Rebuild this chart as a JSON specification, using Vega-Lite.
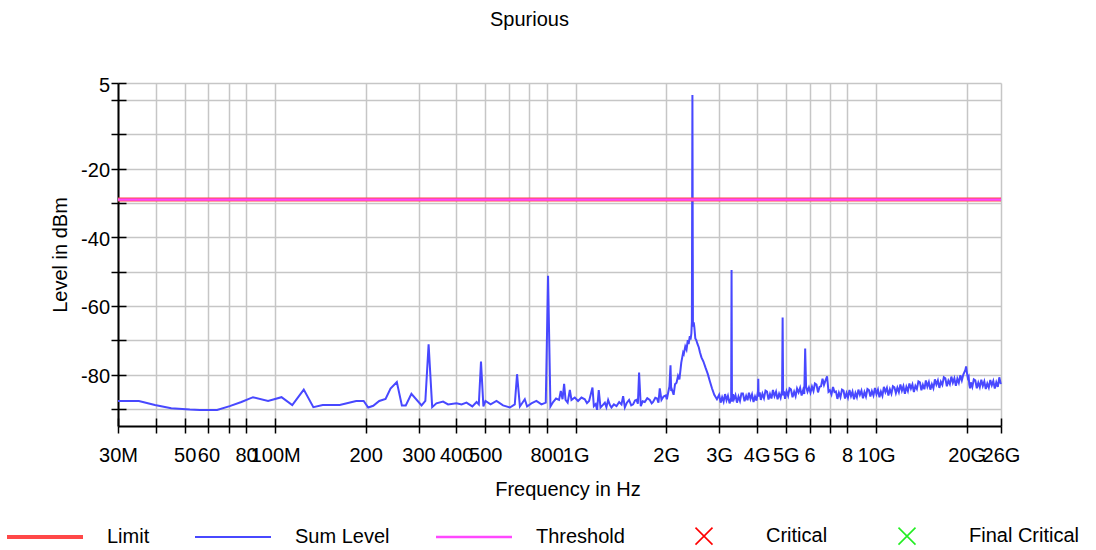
{
  "$schema": "https://vega.github.io/schema/vega-lite/v6.json",
  "width": 883,
  "height": 343,
  "autosize": {"type": "none"},
  "padding": {"left": 118, "top": 83, "right": 95, "bottom": 124},
  "background": "white",
  "title": {"text": "Spurious", "fontSize": 20, "fontWeight": "normal", "font": "Liberation Sans", "color": "black", "anchor": "middle", "frame": "group", "baseline": "alphabetic", "offset": 29, "dx": -30},
  "datasets": {
    "spectrum": [
      {"freq": 30, "level": -87.7}, {"freq": 35.2, "level": -87.7}, {"freq": 39.8, "level": -88.9}, {"freq": 45.1, "level": -89.8},
      {"freq": 52, "level": -90.2}, {"freq": 56.1, "level": -90.3}, {"freq": 64.1, "level": -90.3}, {"freq": 70.6, "level": -89.2},
      {"freq": 77.2, "level": -88.0}, {"freq": 84.4, "level": -86.6}, {"freq": 94.7, "level": -87.7}, {"freq": 105, "level": -86.6},
      {"freq": 114, "level": -88.9}, {"freq": 124.5, "level": -84.4}, {"freq": 134, "level": -89.5}, {"freq": 144, "level": -88.9},
      {"freq": 164, "level": -88.9}, {"freq": 186, "level": -87.7}, {"freq": 197, "level": -87.7}, {"freq": 204, "level": -89.6},
      {"freq": 212, "level": -89.1}, {"freq": 222, "level": -87.7}, {"freq": 233, "level": -87.1}, {"freq": 242, "level": -84.1},
      {"freq": 254, "level": -82.2}, {"freq": 264, "level": -89.0}, {"freq": 272, "level": -89.0}, {"freq": 284, "level": -85.6},
      {"freq": 307, "level": -89.0}, {"freq": 316, "level": -87.7}, {"freq": 324, "level": -71.2}, {"freq": 333, "level": -89.5},
      {"freq": 344, "level": -88.4}, {"freq": 362, "level": -87.9}, {"freq": 376, "level": -88.7}, {"freq": 401, "level": -88.4},
      {"freq": 417, "level": -88.7}, {"freq": 433, "level": -88.2}, {"freq": 453, "level": -89.3}, {"freq": 468, "level": -88.0},
      {"freq": 476, "level": -88.7}, {"freq": 484, "level": -76.2}, {"freq": 493, "level": -89.3}, {"freq": 501, "level": -87.7},
      {"freq": 521, "level": -88.7}, {"freq": 545, "level": -87.7}, {"freq": 573, "level": -89.0}, {"freq": 604, "level": -89.6},
      {"freq": 627, "level": -88.7}, {"freq": 638, "level": -79.9}, {"freq": 652, "level": -89.3}, {"freq": 677, "level": -87.2},
      {"freq": 689, "level": -89.3}, {"freq": 712, "level": -88.4}, {"freq": 740, "level": -87.7}, {"freq": 769, "level": -88.7},
      {"freq": 795, "level": -88.2}, {"freq": 809, "level": -51.2}, {"freq": 824, "level": -89.3}, {"freq": 841, "level": -88.0},
      {"freq": 860, "level": -87.0}, {"freq": 880, "level": -87.4}, {"freq": 892, "level": -84.8}, {"freq": 904, "level": -87.2},
      {"freq": 915, "level": -82.7}, {"freq": 925, "level": -87.4}, {"freq": 940, "level": -88.2}, {"freq": 956, "level": -84.5},
      {"freq": 968, "level": -87.4}, {"freq": 993, "level": -86.7}, {"freq": 1018, "level": -87.7}, {"freq": 1045, "level": -86.7},
      {"freq": 1072, "level": -87.2}, {"freq": 1090, "level": -88.3}, {"freq": 1108, "level": -87.7}, {"freq": 1137, "level": -83.8},
      {"freq": 1149, "level": -89.2}, {"freq": 1165, "level": -88.6}, {"freq": 1178, "level": -90.3}, {"freq": 1193, "level": -84.5},
      {"freq": 1209, "level": -89.6}, {"freq": 1230, "level": -88.9}, {"freq": 1250, "level": -88.2}, {"freq": 1265, "level": -89.5},
      {"freq": 1282, "level": -87.4}, {"freq": 1300, "level": -88.9}, {"freq": 1315, "level": -89.6}, {"freq": 1340, "level": -88.7},
      {"freq": 1367, "level": -89.2}, {"freq": 1395, "level": -88.0}, {"freq": 1420, "level": -88.7}, {"freq": 1438, "level": -86.3},
      {"freq": 1457, "level": -89.6}, {"freq": 1480, "level": -88.2}, {"freq": 1505, "level": -87.4}, {"freq": 1530, "level": -89.0},
      {"freq": 1552, "level": -88.7}, {"freq": 1575, "level": -87.6}, {"freq": 1593, "level": -87.4}, {"freq": 1610, "level": -88.5},
      {"freq": 1625, "level": -79.4}, {"freq": 1646, "level": -89.2}, {"freq": 1670, "level": -87.8}, {"freq": 1697, "level": -88.0},
      {"freq": 1730, "level": -86.9}, {"freq": 1764, "level": -87.4}, {"freq": 1790, "level": -88.4}, {"freq": 1809, "level": -88.0},
      {"freq": 1840, "level": -86.8}, {"freq": 1865, "level": -87.0}, {"freq": 1885, "level": -88.2}, {"freq": 1904, "level": -84.0},
      {"freq": 1929, "level": -87.4}, {"freq": 1960, "level": -86.4}, {"freq": 1994, "level": -86.1}, {"freq": 2010, "level": -87.2},
      {"freq": 2030, "level": -85.3}, {"freq": 2050, "level": -83.5}, {"freq": 2067, "level": -77.3}, {"freq": 2078, "level": -84.8},
      {"freq": 2088, "level": -84.3}, {"freq": 2117, "level": -85.9}, {"freq": 2140, "level": -82.8}, {"freq": 2165, "level": -82.4},
      {"freq": 2190, "level": -80.4}, {"freq": 2213, "level": -81.4}, {"freq": 2245, "level": -76.5}, {"freq": 2277, "level": -73.6},
      {"freq": 2289, "level": -74.0}, {"freq": 2315, "level": -71.8}, {"freq": 2337, "level": -72.7}, {"freq": 2360, "level": -70.0},
      {"freq": 2375, "level": -71.1}, {"freq": 2397, "level": -68.8}, {"freq": 2410, "level": -69.8}, {"freq": 2425, "level": -68.1},
      {"freq": 2435, "level": -64.5}, {"freq": 2445, "level": 1.5}, {"freq": 2455, "level": -66.0}, {"freq": 2470, "level": -64.8},
      {"freq": 2481, "level": -66.1}, {"freq": 2500, "level": -69.5}, {"freq": 2519, "level": -70.0}, {"freq": 2540, "level": -71.0},
      {"freq": 2568, "level": -72.1}, {"freq": 2590, "level": -73.5}, {"freq": 2620, "level": -75.0}, {"freq": 2660, "level": -76.2},
      {"freq": 2703, "level": -78.0}, {"freq": 2750, "level": -79.8}, {"freq": 2793, "level": -81.9}, {"freq": 2840, "level": -84.0},
      {"freq": 2891, "level": -85.9}, {"freq": 2950, "level": -87.2},
      {"freq": 3000, "level": -85.9}, {"freq": 3035, "level": -88.2}, {"freq": 3070, "level": -86.6}, {"freq": 3105, "level": -87.9},
      {"freq": 3140, "level": -85.7}, {"freq": 3175, "level": -87.5}, {"freq": 3210, "level": -86.2}, {"freq": 3250, "level": -88.4},
      {"freq": 3290, "level": -86.8}, {"freq": 3300, "level": -49.5}, {"freq": 3310, "level": -87.9}, {"freq": 3335, "level": -85.7},
      {"freq": 3360, "level": -87.2}, {"freq": 3400, "level": -86.0}, {"freq": 3440, "level": -88.2}, {"freq": 3480, "level": -86.4},
      {"freq": 3520, "level": -87.7}, {"freq": 3560, "level": -85.5}, {"freq": 3600, "level": -85.5}, {"freq": 3645, "level": -87.8},
      {"freq": 3690, "level": -86.2}, {"freq": 3730, "level": -87.5}, {"freq": 3770, "level": -85.3}, {"freq": 3815, "level": -87.1},
      {"freq": 3860, "level": -85.8}, {"freq": 3905, "level": -88.0}, {"freq": 3950, "level": -86.4}, {"freq": 3995, "level": -87.6},
      {"freq": 4040, "level": -84.9}, {"freq": 4050, "level": -81.2}, {"freq": 4060, "level": -86.4}, {"freq": 4095, "level": -85.2},
      {"freq": 4130, "level": -87.4}, {"freq": 4180, "level": -85.6}, {"freq": 4230, "level": -86.9}, {"freq": 4280, "level": -84.7},
      {"freq": 4330, "level": -85.0}, {"freq": 4380, "level": -87.3}, {"freq": 4430, "level": -85.7}, {"freq": 4480, "level": -87.0},
      {"freq": 4530, "level": -84.5}, {"freq": 4585, "level": -86.3}, {"freq": 4640, "level": -85.0}, {"freq": 4695, "level": -87.2},
      {"freq": 4750, "level": -85.6}, {"freq": 4805, "level": -86.8}, {"freq": 4860, "level": -84.6}, {"freq": 4880, "level": -63.4},
      {"freq": 4900, "level": -86.1}, {"freq": 4935, "level": -84.9}, {"freq": 4970, "level": -87.1}, {"freq": 5030, "level": -84.9},
      {"freq": 5090, "level": -86.2}, {"freq": 5145, "level": -84.0}, {"freq": 5200, "level": -84.3}, {"freq": 5265, "level": -86.6},
      {"freq": 5330, "level": -85.0}, {"freq": 5390, "level": -86.3}, {"freq": 5450, "level": -84.1}, {"freq": 5515, "level": -85.2},
      {"freq": 5580, "level": -83.9}, {"freq": 5645, "level": -86.1}, {"freq": 5710, "level": -84.5}, {"freq": 5760, "level": -85.7},
      {"freq": 5800, "level": -72.4}, {"freq": 5840, "level": -83.5}, {"freq": 5905, "level": -85.0}, {"freq": 5970, "level": -83.8},
      {"freq": 6040, "level": -85.3}, {"freq": 6110, "level": -83.5}, {"freq": 6180, "level": -84.8}, {"freq": 6250, "level": -82.6},
      {"freq": 6325, "level": -82.9}, {"freq": 6400, "level": -85.2}, {"freq": 6475, "level": -83.6}, {"freq": 6550, "level": -83.4},
      {"freq": 6625, "level": -81.2}, {"freq": 6700, "level": -83.0}, {"freq": 6780, "level": -81.7}, {"freq": 6860, "level": -80.5},
      {"freq": 6935, "level": -85.0}, {"freq": 7010, "level": -84.6}, {"freq": 7095, "level": -85.8}, {"freq": 7180, "level": -83.6},
      {"freq": 7260, "level": -85.1}, {"freq": 7340, "level": -84.9}, {"freq": 7425, "level": -87.1}, {"freq": 7510, "level": -85.3},
      {"freq": 7600, "level": -86.6}, {"freq": 7690, "level": -84.4}, {"freq": 7780, "level": -84.7}, {"freq": 7870, "level": -87.0},
      {"freq": 7960, "level": -85.4}, {"freq": 8050, "level": -86.7}, {"freq": 8145, "level": -84.5}, {"freq": 8240, "level": -86.3},
      {"freq": 8335, "level": -85.0}, {"freq": 8430, "level": -87.2}, {"freq": 8525, "level": -85.4}, {"freq": 8620, "level": -86.6},
      {"freq": 8720, "level": -84.4}, {"freq": 8820, "level": -85.9}, {"freq": 8925, "level": -84.7}, {"freq": 9030, "level": -86.9},
      {"freq": 9135, "level": -85.1}, {"freq": 9240, "level": -86.4}, {"freq": 9345, "level": -84.2}, {"freq": 9450, "level": -84.5},
      {"freq": 9560, "level": -86.4}, {"freq": 9670, "level": -84.8}, {"freq": 9785, "level": -86.1}, {"freq": 9900, "level": -83.9},
      {"freq": 10015, "level": -85.7}, {"freq": 10130, "level": -84.4}, {"freq": 10245, "level": -86.6}, {"freq": 10360, "level": -85.0},
      {"freq": 10480, "level": -86.2}, {"freq": 10600, "level": -83.6}, {"freq": 10725, "level": -85.1}, {"freq": 10850, "level": -83.9},
      {"freq": 10975, "level": -86.1}, {"freq": 11100, "level": -84.3}, {"freq": 11230, "level": -85.6}, {"freq": 11360, "level": -83.4},
      {"freq": 11490, "level": -83.7}, {"freq": 11620, "level": -85.4}, {"freq": 11755, "level": -83.8}, {"freq": 11890, "level": -85.1},
      {"freq": 12030, "level": -82.9}, {"freq": 12170, "level": -84.7}, {"freq": 12310, "level": -83.4}, {"freq": 12450, "level": -85.6},
      {"freq": 12595, "level": -83.6}, {"freq": 12740, "level": -84.8}, {"freq": 12890, "level": -82.6}, {"freq": 13040, "level": -84.1},
      {"freq": 13190, "level": -82.9}, {"freq": 13340, "level": -85.1}, {"freq": 13495, "level": -83.3}, {"freq": 13650, "level": -84.2},
      {"freq": 13810, "level": -82.0}, {"freq": 13970, "level": -82.3}, {"freq": 14130, "level": -84.6}, {"freq": 14290, "level": -83.0},
      {"freq": 14455, "level": -84.3}, {"freq": 14620, "level": -81.7}, {"freq": 14790, "level": -83.5}, {"freq": 14960, "level": -82.2},
      {"freq": 15135, "level": -84.4}, {"freq": 15310, "level": -82.8}, {"freq": 15490, "level": -84.0}, {"freq": 15670, "level": -81.4},
      {"freq": 15850, "level": -82.9}, {"freq": 16030, "level": -81.7}, {"freq": 16215, "level": -83.9}, {"freq": 16400, "level": -82.1},
      {"freq": 16590, "level": -83.0}, {"freq": 16780, "level": -80.8}, {"freq": 16975, "level": -81.1}, {"freq": 17170, "level": -83.4},
      {"freq": 17370, "level": -81.8}, {"freq": 17570, "level": -82.8}, {"freq": 17775, "level": -80.6}, {"freq": 17980, "level": -82.4},
      {"freq": 18190, "level": -81.1}, {"freq": 18400, "level": -83.3}, {"freq": 18610, "level": -81.2}, {"freq": 18820, "level": -82.4},
      {"freq": 19040, "level": -80.2}, {"freq": 19260, "level": -81.7}, {"freq": 19480, "level": -80.0}, {"freq": 19710, "level": -79.0},
      {"freq": 19800, "level": -78.6}, {"freq": 19900, "level": -77.6}, {"freq": 20030, "level": -79.5}, {"freq": 20170, "level": -81.0},
      {"freq": 20290, "level": -80.6}, {"freq": 20400, "level": -83.0}, {"freq": 20515, "level": -84.0}, {"freq": 20630, "level": -82.3},
      {"freq": 20870, "level": -83.6}, {"freq": 21110, "level": -81.4}, {"freq": 21355, "level": -81.7}, {"freq": 21600, "level": -84.0},
      {"freq": 21850, "level": -82.4}, {"freq": 22100, "level": -83.7}, {"freq": 22360, "level": -81.5}, {"freq": 22620, "level": -83.3},
      {"freq": 22880, "level": -82.0}, {"freq": 23140, "level": -84.2}, {"freq": 23410, "level": -82.6}, {"freq": 23680, "level": -83.8},
      {"freq": 23955, "level": -81.6}, {"freq": 24230, "level": -83.1}, {"freq": 24510, "level": -81.9}, {"freq": 24790, "level": -84.1},
      {"freq": 25080, "level": -82.3}, {"freq": 25370, "level": -83.6}, {"freq": 25665, "level": -80.8}, {"freq": 25960, "level": -82.8}
    ],
    "limit": [{"freq": 30, "level": -29.0}, {"freq": 26000, "level": -29.0}],
    "threshold": [{"freq": 30, "level": -29.0}, {"freq": 26000, "level": -29.0}]
  },
  "layer": [
    {
      "data": {"name": "spectrum"},
      "mark": {"type": "line", "strokeWidth": 2},
      "encoding": {
        "x": {
          "field": "freq", "type": "quantitative",
          "scale": {"type": "log", "domain": [30, 26000], "nice": false},
          "axis": {
            "title": "Frequency in Hz",
            "values": [30, 40, 50, 60, 70, 80, 100, 200, 300, 400, 500, 600, 700, 800, 1000, 2000, 3000, 4000, 5000, 6000, 7000, 8000, 10000, 20000, 26000],
            "labelExpr": "['30M','','50','60','','80','100M','200','300','400','500','','','800','1G','2G','3G','4G','5G','6','','8','10G','20G','26G'][indexof([30,40,50,60,70,80,100,200,300,400,500,600,700,800,1000,2000,3000,4000,5000,6000,7000,8000,10000,20000,26000], round(datum.value))]",
            "labelOverlap": false, "labelFlush": false, "labelBound": false,
            "labelFontSize": 20, "labelFont": "Liberation Sans", "labelColor": "black",
            "labelBaseline": "alphabetic", "labelPadding": 28,
            "tickSize": 7, "tickColor": "black", "tickWidth": 1.5,
            "domainColor": "black", "domainWidth": 2,
            "grid": true, "gridColor": "#c6c6c6", "gridWidth": 1.5,
            "titleFontSize": 20, "titleFontWeight": "normal", "titleFont": "Liberation Sans", "titleColor": "black",
            "titleBaseline": "alphabetic", "titleX": 449.5, "titleY": 69, "titleAlign": "center"
          }
        },
        "y": {
          "field": "level", "type": "quantitative",
          "scale": {"domain": [-95, 5], "nice": false, "zero": false},
          "axis": {
            "title": "Level in dBm",
            "values": [5, 0, -10, -20, -30, -40, -50, -60, -70, -80, -90],
            "labelExpr": "indexof([5,-20,-40,-60,-80], datum.value) >= 0 ? '' + datum.value : ''",
            "labelOverlap": false, "labelBound": false, "labelFlush": false,
            "labelFontSize": 20, "labelFont": "Liberation Sans", "labelColor": "black",
            "labelPadding": 1.5, "labelBaseline": "middle", "labelOffset": 2,
            "tickSize": 7, "tickColor": "black", "tickWidth": 1.5,
            "domainColor": "black", "domainWidth": 2,
            "grid": true, "gridColor": "#c6c6c6", "gridWidth": 1.5,
            "titleFontSize": 20, "titleFontWeight": "normal", "titleFont": "Liberation Sans", "titleColor": "black",
            "titleBaseline": "alphabetic", "titleAngle": -90, "titleAlign": "center", "titleX": -52, "titleY": 171.5
          }
        },
        "color": {
          "datum": "Sum Level", "type": "nominal",
          "scale": {"domain": ["Limit", "Sum Level", "Threshold", "Critical", "Final Critical"], "range": ["#ff4848", "#4848ff", "#ff48ff", "#ff0000", "#22ee22"]},
          "legend": {
            "orient": "none", "legendX": -111, "legendY": 443, "direction": "horizontal", "title": null,
            "padding": 0, "labelFontSize": 20, "labelFont": "Liberation Sans", "labelColor": "black",
            "symbolOffset": 28, "labelOffset": 52, "columnPadding": 41, "symbolType": "stroke", "labelLimit": 400,
            "encode": {
              "symbols": {
                "update": {
                  "shape": {"signal": "indexof(['Critical','Final Critical'], datum.value) >= 0 ? 'M-1,-1L1,1M1,-1L-1,1' : 'stroke'"},
                  "size": {"signal": "indexof(['Critical','Final Critical'], datum.value) >= 0 ? 289 : 5776"},
                  "strokeWidth": {"signal": "datum.value === 'Limit' ? 4 : (datum.value === 'Threshold' ? 2.5 : (datum.value === 'Sum Level' ? 2 : 1.6))"},
                  "fill": {"value": "transparent"}
                }
              }
            }
          }
        }
      }
    },
    {
      "data": {"name": "limit"},
      "mark": {"type": "line", "strokeWidth": 4},
      "encoding": {
        "x": {"field": "freq", "type": "quantitative", "axis": null},
        "y": {"field": "level", "type": "quantitative", "axis": null},
        "color": {"datum": "Limit", "type": "nominal"}
      }
    },
    {
      "data": {"name": "threshold"},
      "mark": {"type": "line", "strokeWidth": 2.2},
      "encoding": {
        "x": {
          "field": "freq", "type": "quantitative",
          "axis": {"orient": "bottom", "offset": -8, "values": [30, 40, 50, 60, 70, 80, 100, 200, 300, 400, 500, 600, 700, 800, 1000, 2000, 3000, 4000, 5000, 6000, 7000, 8000, 10000, 20000, 26000], "labels": false, "domain": false, "grid": false, "ticks": true, "tickSize": 8, "tickColor": "black", "tickWidth": 1.5, "title": null, "zindex": 1}
        },
        "y": {
          "field": "level", "type": "quantitative",
          "axis": {"orient": "left", "offset": -8, "values": [5, 0, -10, -20, -30, -40, -50, -60, -70, -80, -90], "labels": false, "domain": false, "grid": false, "ticks": true, "tickSize": 8, "tickColor": "black", "tickWidth": 1.5, "title": null, "zindex": 1}
        },
        "color": {"datum": "Threshold", "type": "nominal"}
      }
    }
  ],
  "resolve": {"axis": {"x": "independent", "y": "independent"}},
  "config": {"view": {"stroke": null}, "font": "Liberation Sans"}
}
